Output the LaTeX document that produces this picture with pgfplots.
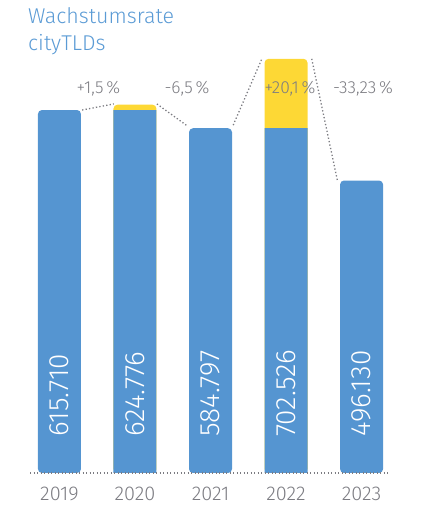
\documentclass[border=0pt]{standalone}
\usepackage{fontspec}
\setmainfont{Fira Sans}[UprightFont=* Light]
\usepackage{pgfplots}
\pgfplotsset{compat=1.18}
\definecolor{barblue}{HTML}{5595D1}
\definecolor{baryellow}{HTML}{FDD835}
\definecolor{txtgrey}{HTML}{7C7C82}
\definecolor{titleblue}{HTML}{5B9BD5}
\begin{document}
\begin{tikzpicture}[x=1bp,y=1bp]
\useasboundingbox (0,0) rectangle (421,518);
\node[anchor=base west,inner sep=0pt,text=titleblue,font=\fontsize{21.5}{26}\selectfont] at (28,494) {Wachstumsrate};
\node[anchor=base west,inner sep=0pt,text=titleblue,font=\fontsize{21.5}{26}\selectfont] at (28,467) {cityTLDs};
\begin{axis}[
  at={(30bp,45bp)}, anchor=south west,
  scale only axis, width=358bp, height=436.26bp,
  xmin=-0.39, xmax=4.35, ymin=0, ymax=740000,
  axis line style={draw=none}, tick style={draw=none},
  ytick=\empty,
  xtick={0,1,2,3,4},
  xticklabels={2019,2020,2021,2022,2023},
  xticklabel style={text=txtgrey,font=\fontsize{20}{22}\selectfont,yshift=-11bp},
  clip=false,
  bar width=43bp,
]
% rounded bars (single colour)
\addplot[ybar, bar shift=0pt, fill=barblue, draw=none, rounded corners=4bp] coordinates {(0,615710) (2,584797) (4,496130)};
% total height (yellow growth part on top)
\addplot[ybar, bar shift=0pt, fill=baryellow, draw=none, rounded corners=4bp] coordinates {(1,624776) (3,702526)};
% previous year's value (blue part)
\addplot[ybar, bar shift=0pt, fill=barblue, draw=none] coordinates {(1,615710) (3,584797)};
% baseline
\addplot[txtgrey, line width=1.3bp, dash pattern=on 1.3bp off 2.2bp] coordinates {(-0.39,0) (4.35,0)};
% connectors
\addplot[txtgrey, line width=1.3bp, dash pattern=on 1.3bp off 2.2bp] coordinates {(0.3,615710) (0.72,626000)};
\addplot[txtgrey, line width=1.3bp, dash pattern=on 1.3bp off 2.2bp] coordinates {(1.29,626000) (1.7,588000)};
\addplot[txtgrey, line width=1.3bp, dash pattern=on 1.3bp off 2.2bp] coordinates {(2.3,590000) (2.68,702526)};
\addplot[txtgrey, line width=1.3bp, dash pattern=on 1.3bp off 2.2bp] coordinates {(3.34,702526) (3.68,496130)};
% value labels
\foreach \i/\v in {0/615.710,1/624.776,2/584.797,3/702.526,4/496.130}{
  \edef\tmp{\noexpand\node[rotate=90,anchor=west,inner sep=0pt,text=white,font=\noexpand\fontsize{28}{30}\noexpand\selectfont] at (axis cs:\i,61000) {\v};}
  \tmp
}
% growth labels
\node[text=txtgrey,font=\fontsize{17.5}{19}\selectfont] at (axis cs:0.517,651300) {+1,5\,\%};
\node[text=txtgrey,font=\fontsize{17.5}{19}\selectfont] at (axis cs:1.689,651300) {-6,5\,\%};
\node[text=txtgrey,font=\fontsize{17.5}{19}\selectfont] at (axis cs:3.053,651300) {+20,1\,\%};
\node[text=txtgrey,font=\fontsize{17.5}{19}\selectfont] at (axis cs:4.02,651300) {-33,23\,\%};
\end{axis}
\end{tikzpicture}
\end{document}
